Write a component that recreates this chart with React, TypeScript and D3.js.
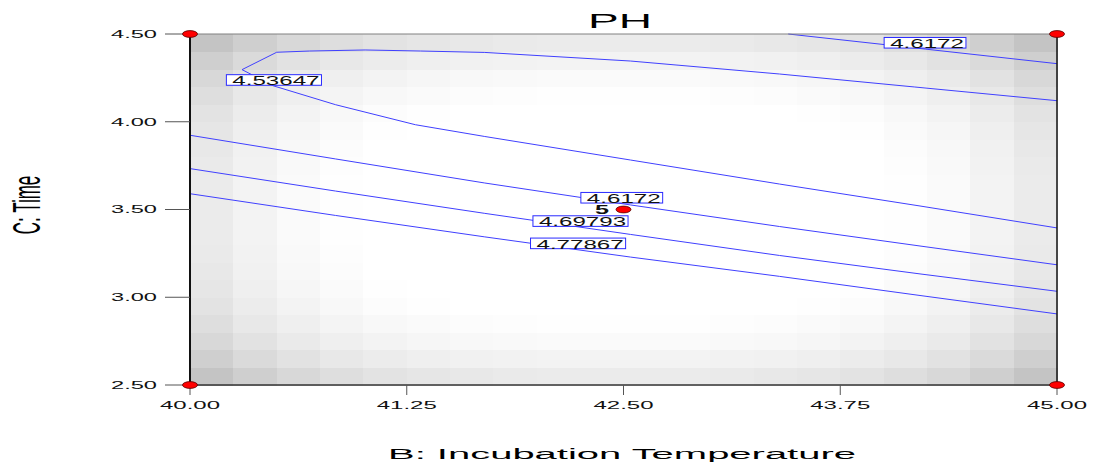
import React from 'react';
import * as d3 from 'd3';

// B: Incubation Temperature (x), C: Time (y)
const xTicks = [40, 41.25, 42.5, 43.75, 45];
const yTicks = [2.5, 3.0, 3.5, 4.0, 4.5];

// contour lines, [B, C]
const contour453647 = [
  [45.0, 4.12], [44.18, 4.198], [43.4, 4.272], [42.54, 4.346], [41.7, 4.395], [41.33, 4.403],
  [41.01, 4.409], [40.69, 4.403], [40.5, 4.396], [40.3, 4.297], [40.48, 4.205], [40.84, 4.097],
  [41.3, 3.983], [41.7, 3.916], [42.54, 3.782], [43.4, 3.645], [44.21, 3.52], [45.0, 3.395],
];
const contour46172top = [[43.45, 4.5], [44.24, 4.414], [45.0, 4.331]];
const contour46172 = [
  [40.0, 3.923], [40.84, 3.788], [41.7, 3.651], [42.54, 3.526], [43.4, 3.403], [44.21, 3.292], [45.0, 3.185],
];
const contour469793 = [
  [40.0, 3.733], [40.84, 3.605], [41.7, 3.478], [42.54, 3.358], [43.4, 3.238], [44.21, 3.133], [45.0, 3.034],
];
const contour477867 = [
  [40.0, 3.59], [40.84, 3.466], [41.7, 3.344], [42.54, 3.229], [43.4, 3.119], [44.21, 3.01], [45.0, 2.905],
];
const contours = [contour453647, contour46172top, contour46172, contour469793, contour477867];

const labelText = ['4.53647', '4.6172', '4.6172', '4.69793', '4.77867'];
const labelB = [40.484, 44.239, 42.49, 42.252, 42.238];
const labelC = [4.238, 4.45, 3.567, 3.434, 3.307];

// design points
const designB = [40, 45, 40, 45, 42.5];
const designC = [4.5, 4.5, 2.5, 2.5, 3.5];
const centerRuns = '5';

// grey shading of the design space, one quarter (rows/cols counted from the edge)
const shadeQuadrant = [
  [59, 48, 39, 33, 28, 25, 23, 21, 20, 20],
  [48, 37, 29, 23, 19, 16, 14, 13, 12, 12],
  [39, 29, 21, 16, 12, 9, 7, 6, 5, 5],
  [33, 23, 16, 11, 7, 5, 3, 2, 1, 1],
  [28, 19, 12, 7, 3, 1, 0, 0, 0, 0],
  [25, 16, 9, 5, 1, 0, 0, 0, 0, 0],
  [23, 14, 7, 3, 0, 0, 0, 0, 0, 0],
  [21, 13, 6, 2, 0, 0, 0, 0, 0, 0],
  [20, 12, 5, 1, 0, 0, 0, 0, 0, 0],
  [20, 12, 5, 1, 0, 0, 0, 0, 0, 0],
];

const W = 1098;
const H = 465;
const font = 'Liberation Sans, Arial, sans-serif';

export default function App() {
  const x = d3.scaleLinear().domain([40, 45]).range([190, 1057]);
  const y = d3.scaleLinear().domain([2.5, 4.5]).range([385, 34]);
  const line = d3.line<number[]>().x(d => x(d[0])).y(d => y(d[1]));
  const fmt = d3.format('.2f');

  const n = 20;
  const cells: { x0: number; x1: number; y0: number; y1: number; g: number }[] = [];
  for (let i = 0; i < n; i++) {
    for (let j = 0; j < n; j++) {
      const b0 = 40 + (i * 5) / n;
      const b1 = 40 + ((i + 1) * 5) / n;
      const c0 = 2.5 + (j * 2) / n;
      const c1 = 2.5 + ((j + 1) * 2) / n;
      const d = shadeQuadrant[Math.min(j, n - 1 - j)][Math.min(i, n - 1 - i)];
      cells.push({ x0: x(b0), x1: x(b1), y0: y(c1), y1: y(c0), g: 255 - d });
    }
  }

  return (
    <svg width={W} height={H} style={{ position: 'absolute', left: 0, top: 0, background: '#fff' }}>
      <g shapeRendering="crispEdges">
        {cells.map((c, k) => (
          <rect key={k} x={c.x0} y={c.y0} width={c.x1 - c.x0 + 0.5} height={c.y1 - c.y0 + 0.5}
            fill={d3.rgb(c.g, c.g, c.g).toString()} />
        ))}
      </g>

      {contours.map((c, k) => (
        <path key={k} d={line(c) || ''} fill="none" stroke="#4040ff" strokeWidth={1} />
      ))}

      {/* frame */}
      <line x1={190} x2={1057} y1={34} y2={34} stroke="#808080" strokeWidth={1} />
      <line x1={1057} x2={1057} y1={34} y2={385} stroke="#111" strokeWidth={1.5} />
      <line x1={190} x2={1057} y1={385} y2={385} stroke="#333" strokeWidth={1.5} />
      <line x1={190} x2={190} y1={34} y2={386} stroke="#111" strokeWidth={2} />

      {/* y axis */}
      {yTicks.map(t => (
        <g key={t}>
          <line x1={165} x2={190} y1={y(t)} y2={y(t)} stroke="#555" strokeWidth={1} />
          <text x={157} y={y(t) + 3.8} textAnchor="end" fontFamily={font} fontSize={10.5}
            textLength={46} lengthAdjust="spacingAndGlyphs" fill="#111">{fmt(t)}</text>
        </g>
      ))}
      {/* x axis */}
      {xTicks.map(t => (
        <g key={t}>
          <line x1={x(t)} x2={x(t)} y1={385} y2={395} stroke="#555" strokeWidth={1} />
          <text x={x(t) - 30} y={408.5} fontFamily={font} fontSize={11}
            textLength={60} lengthAdjust="spacingAndGlyphs" fill="#111">{fmt(t)}</text>
        </g>
      ))}

      {/* contour labels */}
      {labelText.map((t, k) => {
        const bw = 13.3 * t.length + 2;
        const cx = x(labelB[k]);
        const cy = y(labelC[k]);
        return (
          <g key={k}>
            <rect x={cx - bw / 2} y={cy - 5.3} width={bw} height={10.6} fill="#fff" stroke="#2a2aff" strokeWidth={1} />
            <text x={cx - bw / 2 + 6} y={cy + 5.2} fontFamily={font} fontSize={13.2}
              textLength={bw - 8} lengthAdjust="spacingAndGlyphs" fill="#111">{t}</text>
          </g>
        );
      })}

      {/* design points */}
      {designB.map((b, k) => (
        <ellipse key={k} cx={x(b)} cy={y(designC[k])} rx={7.5} ry={3.4} fill="#ff0000" stroke="#550000" strokeWidth={0.8} />
      ))}
      <text x={x(designB[4]) - 28.5} y={y(designC[4]) + 4.3} fontFamily={font} fontWeight="bold" fontSize={12.5}
        textLength={14} lengthAdjust="spacingAndGlyphs" fill="#111">{centerRuns}</text>

      {/* titles */}
      <text x={588} y={28.3} fontFamily={font} fontSize={20} textLength={64}
        lengthAdjust="spacingAndGlyphs" fill="#000">PH</text>
      <text x={388} y={458.7} fontFamily={font} fontSize={15.5} textLength={468}
        lengthAdjust="spacingAndGlyphs" fill="#000">B: Incubation Temperature</text>
      <text transform="translate(40,205) scale(2.3,1) rotate(-90)" textAnchor="middle"
        fontFamily={font} fontSize={17} fill="#000">C: Time</text>
    </svg>
  );
}
